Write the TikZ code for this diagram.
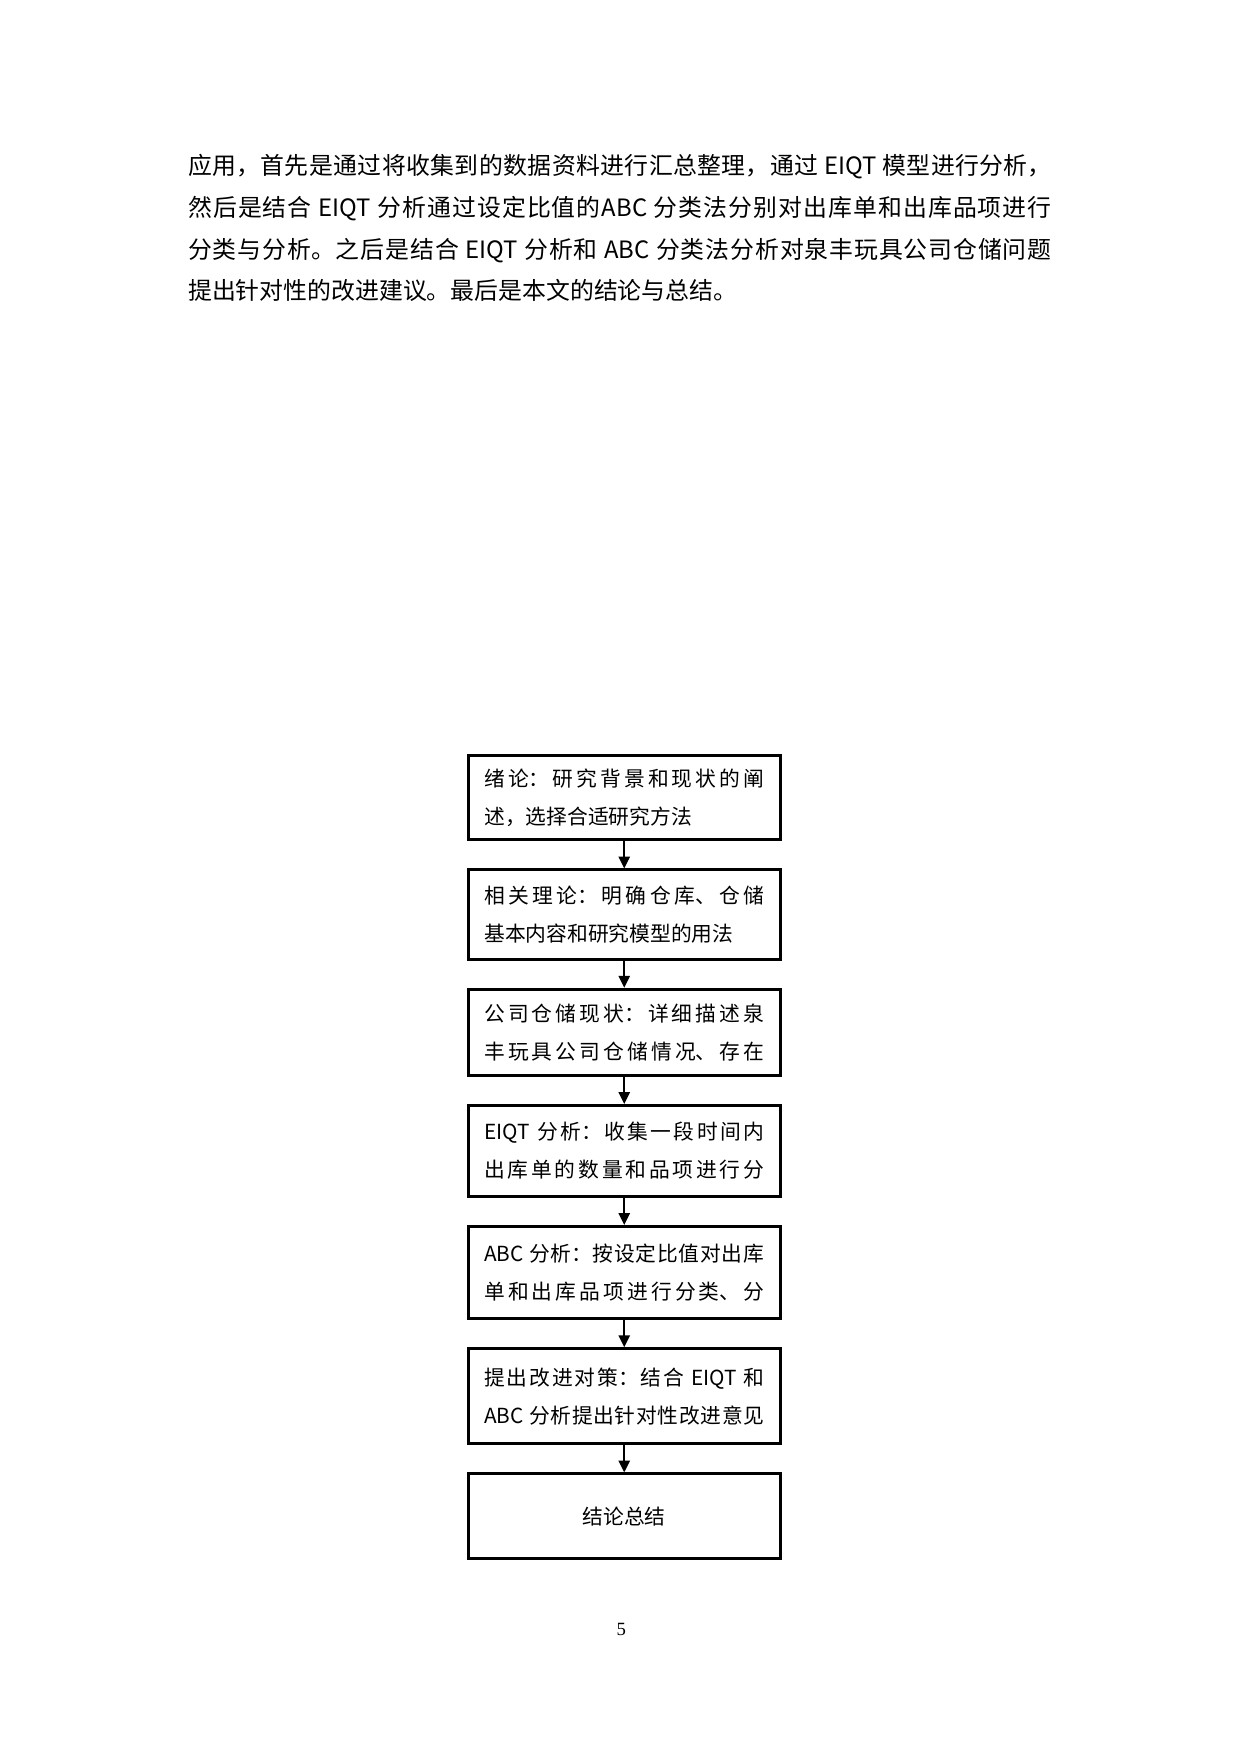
\documentclass[tikz,border=0pt]{standalone}
\usepackage{fontspec}
\setmainfont{Noto Sans CJK SC}
\newfontfamily\numfont{Liberation Serif}
\usetikzlibrary{positioning, arrows.meta}
\XeTeXlinebreaklocale "zh"
\XeTeXlinebreakskip=0pt plus 1pt
\newcommand\fullline{\parfillskip=0pt\relax}

\begin{document}
\begin{tikzpicture}[node distance=4.6mm, >={Triangle[length=2mm,width=1.9mm]},
        stepbox/.style={draw, line width=1.4pt, text width=47.4mm, inner xsep=2.7mm, inner ysep=0pt, minimum height=15mm, align=justify, font=\fontsize{10}{18.3}\selectfont},
        fullbox/.style={stepbox, execute at begin node=\fullline}]
        \useasboundingbox (0,0) rectangle (21,-29.7);

        \node[anchor=base west, text width=146.2mm, inner sep=0pt, align=justify, font=\fontsize{11.5}{20.1}\selectfont] (intro) at (3.18,-2.96)
        {应用，首先是通过将收集到的数据资料进行汇总整理，通过 EIQT 模型进行分析，\linebreak
        然后是结合 EIQT 分析通过设定比值的ABC 分类法分别对出库单和出库品项进行\linebreak
        分类与分析。之后是结合 EIQT 分析和 ABC 分类法分析对泉丰玩具公司仓储问题\linebreak
        提出针对性的改进建议。最后是本文的结论与总结。};

        \node[stepbox, minimum height=14.2mm] (xulun) at (10.57,-13.51) {绪论：研究背景和现状的阐\linebreak 述，选择合适研究方法};
        \node[stepbox, minimum height=15.1mm, below=of xulun] (lilun) {相关理论：明确仓库、仓储\linebreak 基本内容和研究模型的用法};
        \node[fullbox, minimum height=14.6mm, below=of lilun] (xianzhuang) {公司仓储现状：详细描述泉\linebreak 丰玩具公司仓储情况、存在};
        \node[fullbox, minimum height=15.4mm, below=of xianzhuang] (eiqt) {EIQT 分析：收集一段时间内\linebreak 出库单的数量和品项进行分};
        \node[fullbox, minimum height=15.6mm, below=of eiqt] (abc) {ABC 分析：按设定比值对出库\linebreak 单和出库品项进行分类、分};
        \node[fullbox, minimum height=16.1mm, below=of abc] (duice) {提出改进对策：结合 EIQT 和\linebreak ABC 分析提出针对性改进意见};
        \node[stepbox, minimum height=14.4mm, align=center, below=of duice] (jielun) {\mbox{结论总结}};

        \path[->, line width=0.9pt]
        (xulun) edge (lilun)
        (lilun) edge (xianzhuang)
        (xianzhuang) edge (eiqt)
        (eiqt) edge (abc)
        (abc) edge (duice)
        (duice) edge (jielun);

        \node[anchor=base, font=\numfont\fontsize{9}{9}\selectfont] (page) at (10.52,-27.69) {5};
    \end{tikzpicture}
\end{document}
